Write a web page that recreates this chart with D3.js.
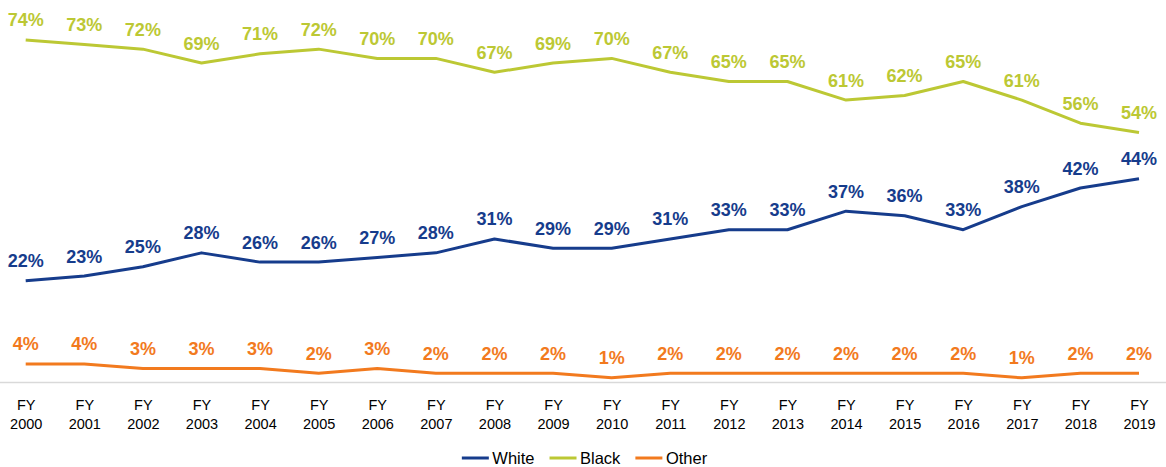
<!DOCTYPE html>
<html>
<head>
<meta charset="utf-8">
<script src="https://cdn.jsdelivr.net/npm/d3@7"></script>
<style>
  html, body { margin: 0; padding: 0; background: #fff; }
  svg { display: block; }
</style>
</head>
<body>
<svg id="chart" width="1166" height="467"></svg>
<script>
const categories = ["2000","2001","2002","2003","2004","2005","2006","2007","2008","2009","2010","2011","2012","2013","2014","2015","2016","2017","2018","2019"];
const tickPrefix = "FY";
const whiteValues = [22,23,25,28,26,26,27,28,31,29,29,31,33,33,37,36,33,38,42,44];
const blackValues = [74,73,72,69,71,72,70,70,67,69,70,67,65,65,61,62,65,61,56,54];
const otherValues = [4,4,3,3,3,2,3,2,2,2,1,2,2,2,2,2,2,1,2,2];
const seriesNames = ["White","Black","Other"];
const seriesColors = ["#163C8C","#BCC834","#F27A1E"];

const series = [
  {name: seriesNames[0], values: whiteValues, color: seriesColors[0]},
  {name: seriesNames[1], values: blackValues, color: seriesColors[1]},
  {name: seriesNames[2], values: otherValues, color: seriesColors[2]}
];

const svg = d3.select("#chart");
const font = "'Liberation Sans', Arial, sans-serif";

const x = d3.scalePoint().domain(categories).range([25.7, 1139]);
const y = d3.scaleLinear().domain([0, 80]).range([382.5, 12.1]);

// axis baseline
svg.append("line")
  .attr("x1", 0).attr("x2", 1166)
  .attr("y1", y(0)).attr("y2", y(0))
  .attr("stroke", "#D9D9D9").attr("stroke-width", 1.5);

// x axis tick labels
const xAxis = d3.axisBottom(x).tickSize(0).tickFormat(() => "");
const axisG = svg.append("g").attr("transform", `translate(0,${y(0)})`).call(xAxis);
axisG.select(".domain").remove();
axisG.selectAll(".tick").each(function(d) {
  const t = d3.select(this).append("text")
    .attr("text-anchor", "middle")
    .attr("fill", "#000")
    .style("font-family", font)
    .style("font-size", "14.5px");
  t.append("tspan").attr("x", 0).attr("y", 27.5).text(tickPrefix);
  t.append("tspan").attr("x", 0).attr("y", 46).text(d);
});

const line = d3.line()
  .x((d, i) => x(categories[i]))
  .y(d => y(d));

series.forEach(s => {
  svg.append("path")
    .datum(s.values)
    .attr("d", line)
    .attr("fill", "none")
    .attr("stroke", s.color)
    .attr("stroke-width", 3)
    .attr("stroke-linejoin", "round");

  svg.append("g").selectAll("text")
    .data(s.values)
    .join("text")
    .attr("x", (d, i) => x(categories[i]))
    .attr("y", d => y(d) - 13.5)
    .attr("text-anchor", "middle")
    .attr("fill", s.color)
    .style("font-family", font)
    .style("font-weight", "bold")
    .style("font-size", "18px")
    .text(d => d + "%");
});

// legend
const legend = svg.append("g");
let cx = 0;
const items = [];
series.forEach(s => {
  const g = legend.append("g").attr("transform", `translate(${cx},0)`);
  g.append("line").attr("x1", 0).attr("x2", 27).attr("y1", 0).attr("y2", 0)
    .attr("stroke", s.color).attr("stroke-width", 3);
  const t = g.append("text").attr("x", 30.5).attr("y", 6)
    .style("font-family", font).style("font-size", "16.5px").attr("fill", "#000")
    .text(s.name);
  const w = t.node().getComputedTextLength();
  cx += 30.5 + w + 15;
});
const totalW = cx - 15;
legend.attr("transform", `translate(${584.5 - totalW / 2},458)`);
</script>
</body>
</html>
